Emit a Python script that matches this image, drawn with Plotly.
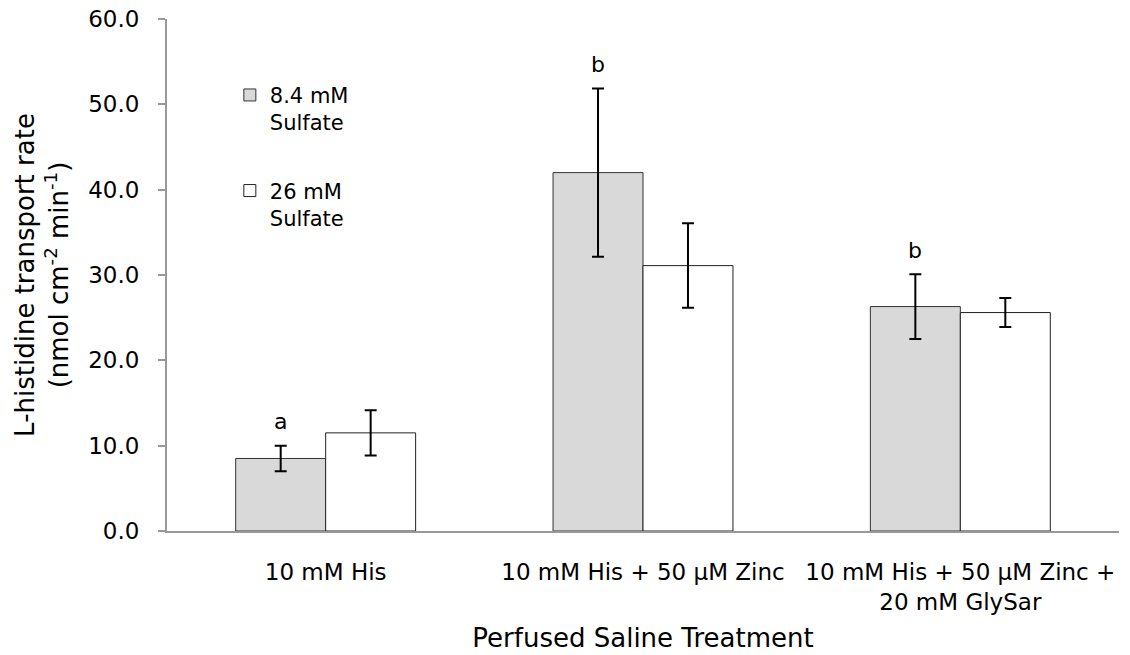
import plotly.graph_objects as go

categories = ["10 mM His", "10 mM His + 50 µM Zinc", "10 mM His + 50 µM Zinc +<br>20 mM GlySar"]
series_names = ["8.4 mM<br>Sulfate", "26 mM<br>Sulfate"]
low_sulfate = [8.5, 42.0, 26.3]
low_sulfate_err = [1.5, 9.85, 3.8]
high_sulfate = [11.5, 31.1, 25.6]
high_sulfate_err = [2.65, 4.95, 1.7]
letters = ["a", "b", "b"]
y_ticks = [0, 10, 20, 30, 40, 50, 60]

FONT = "DejaVu Sans"
BARGAP = 0.433
AXIS_COLOR = "#999999"

fig = go.Figure()
fig.add_trace(go.Bar(
    x=categories, y=low_sulfate, name=series_names[0], legendgroup="g1",
    marker=dict(color="#d9d9d9", line=dict(color="#333333", width=1)),
    error_y=dict(type="data", array=low_sulfate_err, color="black", thickness=2, width=6),
))
fig.add_trace(go.Bar(
    x=categories, y=high_sulfate, name=series_names[1], legendgroup="g2",
    marker=dict(color="#ffffff", line=dict(color="#222222", width=1)),
    error_y=dict(type="data", array=high_sulfate_err, color="black", thickness=2, width=6),
))

offset = (1 - BARGAP) / 4
for i, (lab, v, e) in enumerate(zip(letters, low_sulfate, low_sulfate_err)):
    fig.add_annotation(x=i - offset, y=v + e + 1.1, text=lab, showarrow=False,
                       yanchor="bottom", xref="x", yref="y",
                       font=dict(family=FONT, size=22, color="black"))

fig.update_layout(
    width=1130, height=655,
    margin=dict(l=167, r=11, t=19, b=124, autoexpand=False),
    paper_bgcolor="white", plot_bgcolor="white",
    barmode="group", bargap=BARGAP, bargroupgap=0,
    font=dict(family=FONT, size=22, color="black"),
    showlegend=True,
    legend=dict(x=0.066, y=0.891, xanchor="left", yanchor="top",
                bgcolor="rgba(0,0,0,0)", valign="top", tracegroupgap=38,
                font=dict(family=FONT, size=21, color="black")),
    xaxis=dict(showline=True, linecolor=AXIS_COLOR, linewidth=2, ticks="",
               showgrid=False, tickfont=dict(size=23), automargin=False,
               ticklabelstandoff=19, ticklabeloverflow="allow",
               title=dict(text="Perfused Saline Treatment", font=dict(size=26), standoff=15)),
    yaxis=dict(range=[0, 60], tickvals=y_ticks, tickformat=".1f", showline=True,
               linecolor=AXIS_COLOR, linewidth=2, ticks="outside", ticklen=7,
               tickcolor=AXIS_COLOR, tickwidth=2, showgrid=False, zeroline=False,
               tickfont=dict(size=23), automargin=False, ticklabelstandoff=14,
               ticklabeloverflow="allow",
               title=dict(text="L-histidine transport rate<br>(nmol cm<sup>-2</sup> min<sup>-1</sup>)",
                          font=dict(size=26), standoff=12)),
)

# remove the default 8px page margin so the figure fills the window exactly
fig.write_html("out.html", config={"displayModeBar": False},
               post_script="document.body.style.margin='0';")
